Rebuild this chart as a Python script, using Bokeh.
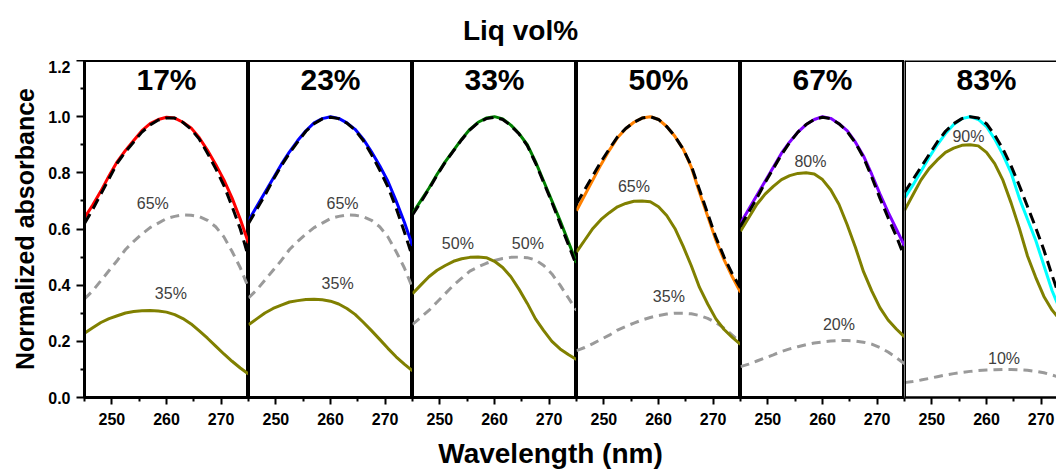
from bokeh.plotting import figure
from bokeh.models import Range1d, FixedTicker, PrintfTickFormatter, Label, Span
from bokeh.layouts import row, column
from bokeh.embed import file_html
from bokeh.resources import INLINE

# ---------------- data ----------------
wavelength = [245, 246.5, 248, 249.5, 251, 252.5, 254, 255.5, 257, 258.5, 260,
              261.5, 263, 264.5, 266, 267.5, 269, 270.5, 272, 273.5, 275]

liq_vol = ["17%", "23%", "33%", "50%", "67%", "83%"]
line_colors = ["#ff0000", "#0000ff", "#008000", "#ff8000", "#8000ff", "#00ffff"]

measured_17 = [0.64, 0.685, 0.735, 0.79, 0.84, 0.88, 0.915, 0.95, 0.975, 0.99, 0.998,
               0.995, 0.98, 0.96, 0.925, 0.88, 0.83, 0.775, 0.71, 0.635, 0.55]
fit_17 = [0.62, 0.67, 0.725, 0.78, 0.835, 0.875, 0.91, 0.945, 0.97, 0.988, 0.995,
          0.995, 0.98, 0.955, 0.92, 0.87, 0.815, 0.755, 0.68, 0.60, 0.50]
comp_a_17 = [0.229, 0.248, 0.267, 0.281, 0.291, 0.301, 0.306, 0.309, 0.31, 0.308, 0.304,
             0.295, 0.281, 0.262, 0.237, 0.211, 0.183, 0.155, 0.129, 0.105, 0.084]
comp_b_17 = [0.351, 0.38, 0.416, 0.452, 0.488, 0.527, 0.556, 0.582, 0.605, 0.621, 0.637,
             0.645, 0.65, 0.649, 0.644, 0.631, 0.608, 0.572, 0.52, 0.462, 0.39]

measured_23 = [0.63, 0.68, 0.73, 0.78, 0.83, 0.875, 0.915, 0.95, 0.978, 0.993, 1.0,
               0.994, 0.978, 0.955, 0.92, 0.875, 0.825, 0.77, 0.70, 0.625, 0.54]
fit_23 = [0.62, 0.67, 0.72, 0.775, 0.825, 0.87, 0.91, 0.948, 0.975, 0.992, 0.998,
          0.993, 0.977, 0.952, 0.915, 0.865, 0.81, 0.75, 0.675, 0.59, 0.50]
comp_a_23 = [0.259, 0.28, 0.301, 0.317, 0.329, 0.34, 0.345, 0.349, 0.35, 0.348, 0.343,
             0.333, 0.317, 0.296, 0.268, 0.238, 0.207, 0.175, 0.145, 0.119, 0.095]
comp_b_23 = [0.355, 0.383, 0.418, 0.453, 0.488, 0.527, 0.556, 0.582, 0.605, 0.621, 0.637,
             0.645, 0.65, 0.649, 0.644, 0.631, 0.608, 0.572, 0.52, 0.462, 0.39]

measured_33 = [0.655, 0.70, 0.745, 0.795, 0.84, 0.88, 0.92, 0.955, 0.98, 0.995, 1.0,
               0.992, 0.97, 0.94, 0.90, 0.84, 0.77, 0.70, 0.63, 0.555, 0.48]
fit_33 = [0.65, 0.695, 0.742, 0.792, 0.838, 0.878, 0.918, 0.953, 0.978, 0.993, 0.998,
          0.99, 0.968, 0.938, 0.897, 0.835, 0.765, 0.695, 0.62, 0.545, 0.47]
comp_a_33 = [0.37, 0.40, 0.43, 0.453, 0.47, 0.485, 0.494, 0.499, 0.50, 0.498, 0.485,
             0.463, 0.43, 0.385, 0.335, 0.28, 0.238, 0.20, 0.173, 0.153, 0.135]
comp_b_33 = [0.26, 0.285, 0.31, 0.34, 0.37, 0.40, 0.425, 0.45, 0.465, 0.478, 0.488,
             0.495, 0.499, 0.50, 0.498, 0.49, 0.47, 0.44, 0.40, 0.355, 0.31]

measured_50 = [0.665, 0.72, 0.775, 0.83, 0.88, 0.925, 0.957, 0.98, 0.995, 1.0, 0.99,
               0.965, 0.93, 0.885, 0.82, 0.73, 0.645, 0.56, 0.49, 0.43, 0.375]
fit_50 = [0.69, 0.74, 0.79, 0.84, 0.885, 0.928, 0.958, 0.98, 0.995, 1.0, 0.99,
          0.965, 0.93, 0.885, 0.825, 0.74, 0.655, 0.57, 0.50, 0.44, 0.39]
comp_a_50 = [0.518, 0.56, 0.602, 0.634, 0.658, 0.679, 0.691, 0.699, 0.70, 0.697, 0.679,
             0.648, 0.602, 0.539, 0.469, 0.392, 0.333, 0.28, 0.242, 0.214, 0.189]
comp_b_50 = [0.167, 0.178, 0.192, 0.207, 0.222, 0.24, 0.253, 0.265, 0.276, 0.285, 0.292,
             0.297, 0.30, 0.30, 0.298, 0.292, 0.282, 0.267, 0.247, 0.222, 0.196]

measured_67 = [0.62, 0.67, 0.72, 0.77, 0.82, 0.87, 0.91, 0.945, 0.972, 0.99, 1.0,
               0.994, 0.975, 0.95, 0.91, 0.86, 0.795, 0.725, 0.66, 0.60, 0.54]
fit_67 = [0.61, 0.66, 0.71, 0.765, 0.815, 0.865, 0.908, 0.945, 0.972, 0.99, 0.998,
          0.993, 0.975, 0.948, 0.907, 0.855, 0.785, 0.71, 0.64, 0.575, 0.50]
comp_a_67 = [0.592, 0.64, 0.688, 0.724, 0.752, 0.776, 0.79, 0.798, 0.80, 0.796, 0.776,
             0.74, 0.688, 0.616, 0.536, 0.448, 0.38, 0.32, 0.276, 0.244, 0.216]
comp_b_67 = [0.11, 0.119, 0.13, 0.141, 0.152, 0.164, 0.173, 0.181, 0.188, 0.194, 0.198,
             0.201, 0.203, 0.203, 0.201, 0.197, 0.19, 0.178, 0.162, 0.142, 0.12]

measured_83 = [0.71, 0.755, 0.805, 0.855, 0.90, 0.94, 0.972, 0.993, 1.0, 0.99, 0.965,
               0.92, 0.865, 0.80, 0.71, 0.635, 0.56, 0.47, 0.38, 0.31, 0.24]
fit_83 = [0.73, 0.775, 0.82, 0.865, 0.91, 0.948, 0.975, 0.993, 1.0, 0.995, 0.975,
          0.935, 0.885, 0.825, 0.755, 0.68, 0.605, 0.525, 0.435, 0.35, 0.27]
comp_a_83 = [0.666, 0.72, 0.774, 0.815, 0.846, 0.873, 0.888, 0.898, 0.90, 0.896, 0.873,
             0.833, 0.774, 0.693, 0.603, 0.504, 0.428, 0.36, 0.311, 0.275, 0.243]
comp_b_83 = [0.053, 0.057, 0.062, 0.068, 0.074, 0.08, 0.085, 0.089, 0.093, 0.096, 0.098,
             0.099, 0.10, 0.10, 0.099, 0.097, 0.093, 0.088, 0.08, 0.071, 0.06]

comp_a_labels = ["35%", "35%", "50%", "65%", "80%", "90%"]
comp_b_labels = ["65%", "65%", "50%", "35%", "20%", "10%"]

y_ticks = [0.0, 0.2, 0.4, 0.6, 0.8, 1.0, 1.2]
y_minor = [0.1, 0.3, 0.5, 0.7, 0.9, 1.1]
x_ticks = [250, 260, 270]
x_minor = [245, 255, 265, 275]

measured = [measured_17, measured_23, measured_33, measured_50, measured_67, measured_83]
fits = [fit_17, fit_23, fit_33, fit_50, fit_67, fit_83]
comp_a = [comp_a_17, comp_a_23, comp_a_33, comp_a_50, comp_a_67, comp_a_83]
comp_b = [comp_b_17, comp_b_23, comp_b_33, comp_b_50, comp_b_67, comp_b_83]

# ---------------- layout / style ----------------
FONT = "Liberation Sans"
OLIVE = "#808000"
GRAY = "#9a9a9a"
LBL_GRAY = "#404040"

a_label_pos = [(260.8, 0.37), (261.3, 0.405), (253.3, 0.55), (255.5, 0.75), (257.8, 0.84), (256.7, 0.93)]
b_label_pos = [(257.5, 0.69), (262.2, 0.69), (266.1, 0.55), (261.9, 0.36), (263.0, 0.26), (263.2, 0.14)]

panels = []
for i in range(6):
    first = i == 0
    last = i == 5
    width = 164 + (84 if first else 0)
    if last:
        width = 152
    x_end = 245 + (width - (84 if first else 0)) / (164 / 30.0)
    p = figure(width=width, height=373,
               x_range=Range1d(245, x_end), y_range=Range1d(0, 1.2),
               y_axis_location="left" if first else None,
               output_backend="svg", toolbar_location=None,
               min_border_left=84 if first else 0, min_border_right=0,
               min_border_top=0, min_border_bottom=36)
    p.xgrid.visible = False
    p.ygrid.visible = False
    p.background_fill_color = "white"
    p.border_fill_color = "white"
    if last:
        p.outline_line_color = None
        p.add_layout(Span(location=1.2, dimension="width", line_color="black", line_width=3))
        p.add_layout(Span(location=245, dimension="height", line_color="black", line_width=3))
    else:
        p.outline_line_color = "black"
        p.outline_line_width = 3
        p.outline_line_alpha = 1.0

    xa = p.xaxis[0]
    xa.ticker = FixedTicker(ticks=x_ticks, minor_ticks=x_minor)
    xa.axis_line_width = 2.5
    xa.axis_line_color = "black"
    xa.major_tick_line_width = 2
    xa.minor_tick_line_width = 2
    xa.major_tick_out = 7
    xa.major_tick_in = 0
    xa.minor_tick_out = 4
    xa.minor_tick_in = 0
    xa.major_label_text_font = FONT
    xa.major_label_text_font_style = "bold"
    xa.major_label_text_font_size = "16px"
    xa.major_label_text_color = "black"
    xa.major_label_standoff = 8

    if first:
        ya = p.yaxis[0]
        ya.ticker = FixedTicker(ticks=y_ticks, minor_ticks=y_minor)
        ya.formatter = PrintfTickFormatter(format="%.1f")
        ya.axis_line_width = 3
        ya.axis_line_color = "black"
        ya.major_tick_line_width = 2
        ya.minor_tick_line_width = 2
        ya.major_tick_out = 8
        ya.major_tick_in = 0
        ya.minor_tick_out = 4
        ya.minor_tick_in = 0
        ya.major_label_text_font = FONT
        ya.major_label_text_font_style = "bold"
        ya.major_label_text_font_size = "16px"
        ya.major_label_text_color = "black"
        ya.major_label_standoff = 6
        ya.axis_label = "Normalized absorbance"
        ya.axis_label_text_font = FONT
        ya.axis_label_text_font_style = "bold"
        ya.axis_label_text_font_size = "25px"
        ya.axis_label_text_color = "black"
        ya.axis_label_standoff = 6

    p.line(wavelength, comp_b[i], line_color=GRAY, line_width=3, line_dash="9 6", line_join="round")
    p.line(wavelength, comp_a[i], line_color=OLIVE, line_width=3, line_join="round")
    p.line(wavelength, measured[i], line_color=line_colors[i], line_width=3, line_join="round")
    p.line(wavelength, fits[i], line_color="black", line_width=3, line_dash="11 6", line_join="round")

    p.add_layout(Label(x=260, y=1.132, text=liq_vol[i], text_align="center",
                       text_baseline="middle", text_font=FONT, text_font_style="bold",
                       text_font_size="30px", text_color="black"))
    ax, ay = a_label_pos[i]
    p.add_layout(Label(x=ax, y=ay, text=comp_a_labels[i], text_align="center",
                       text_baseline="middle", text_font=FONT, text_font_size="16px",
                       text_color=LBL_GRAY))
    bx, by = b_label_pos[i]
    p.add_layout(Label(x=bx, y=by, text=comp_b_labels[i], text_align="center",
                       text_baseline="middle", text_font=FONT, text_font_size="16px",
                       text_color=LBL_GRAY))
    panels.append(p)


def text_strip(height, label, x, y_from_bottom):
    f = figure(width=1056, height=height, x_range=Range1d(0, 1056), y_range=Range1d(0, height),
               x_axis_location=None, y_axis_location=None,
               output_backend="svg", toolbar_location=None, min_border=0)
    f.xgrid.visible = False
    f.ygrid.visible = False
    f.outline_line_color = None
    f.add_layout(Label(x=x, y=y_from_bottom, text=label, text_align="center",
                       text_baseline="middle", text_font=FONT, text_font_style="bold",
                       text_font_size="28px", text_color="black"))
    return f


top = text_strip(60, "Liq vol%", 520, 30)
bottom = text_strip(42, "Wavelength (nm)", 550, 22)

layout = column(top, row(*panels, spacing=0), bottom, spacing=0)

open("out.html", "w").write(file_html(layout, INLINE))
